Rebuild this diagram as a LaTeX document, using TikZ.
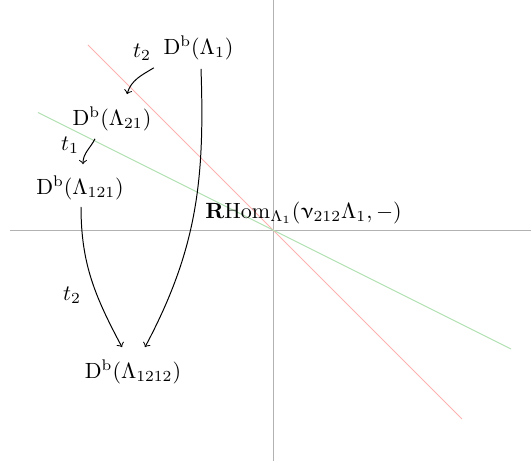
\documentclass[tikz,border=0pt]{standalone}
\usepackage{amsmath}
\usepackage[Euler]{upgreek}
\usetikzlibrary{calc}
\begin{document}
\begin{tikzpicture}[x=0.4545pt,y=0.4545pt,
  axisline/.style={draw=black!30,line width=0.4pt},
  redline/.style={draw=red!30,line width=0.45pt},
  greenline/.style={draw=green!60!black!30,line width=0.45pt},
  cat/.style={inner sep=3.33pt},
  lbl/.style={inner sep=0pt},
  arr/.style={->,line width=0.45pt}]
\useasboundingbox (0,0) rectangle (531,-466);
% axes
\coordinate (hl) at (10,-230);
\coordinate (hr) at (531,-230);
\coordinate (vt) at (273,0);
\coordinate (vb) at (273,-461);
\draw[axisline] (hl) -- (hr);
\draw[axisline] (vt) -- (vb);
% lines
\coordinate (ra) at (88,-45);
\coordinate (rb) at (462,-419);
\coordinate (ga) at (38,-112.5);
\coordinate (gb) at (511,-349);
\draw[redline] (ra) -- (rb);
\draw[greenline] (ga) -- (gb);
% nodes
\node[cat] (d1) at (198.5,-48) {$\mathrm{D}^{\mathrm{b}}(\Lambda_1)$};
\node[cat] (d21) at (112,-119) {$\mathrm{D}^{\mathrm{b}}(\Lambda_{21})$};
\node[cat] (d121) at (80,-188) {$\mathrm{D}^{\mathrm{b}}(\Lambda_{121})$};
\node[cat] (d1212) at (133,-372) {$\mathrm{D}^{\mathrm{b}}(\Lambda_{1212})$};
\node[lbl,anchor=west] (rhom) at (205,-213) {$\mathbf{R}\mathrm{Hom}_{\Lambda_1}(\upnu_{212}\Lambda_1,-)$};
\node[lbl] (t2a) at (142,-52) {$t_2$};
\node[lbl] (t1) at (70,-145) {$t_1$};
\node[lbl] (t2b) at (72,-295) {$t_2$};
% arrows
\draw[arr] ($(d1.south west)+(-2,0)$) to[out=211,in=73] ($(d21.north)+(15,5)$);
\draw[arr] ($(d21.south)+(-17,0)$) to[out=243,in=90] ($(d121.north)+(3,4)$);
\draw[arr] ($(d121.south)+(1,1)$) to[out=270,in=118] ($(d1212.north)+(-11,5)$);
\draw[arr] ($(d1.south)+(2.5,-1)$) to[out=-88,in=62] ($(d1212.north)+(12,5)$);
\end{tikzpicture}
\end{document}
